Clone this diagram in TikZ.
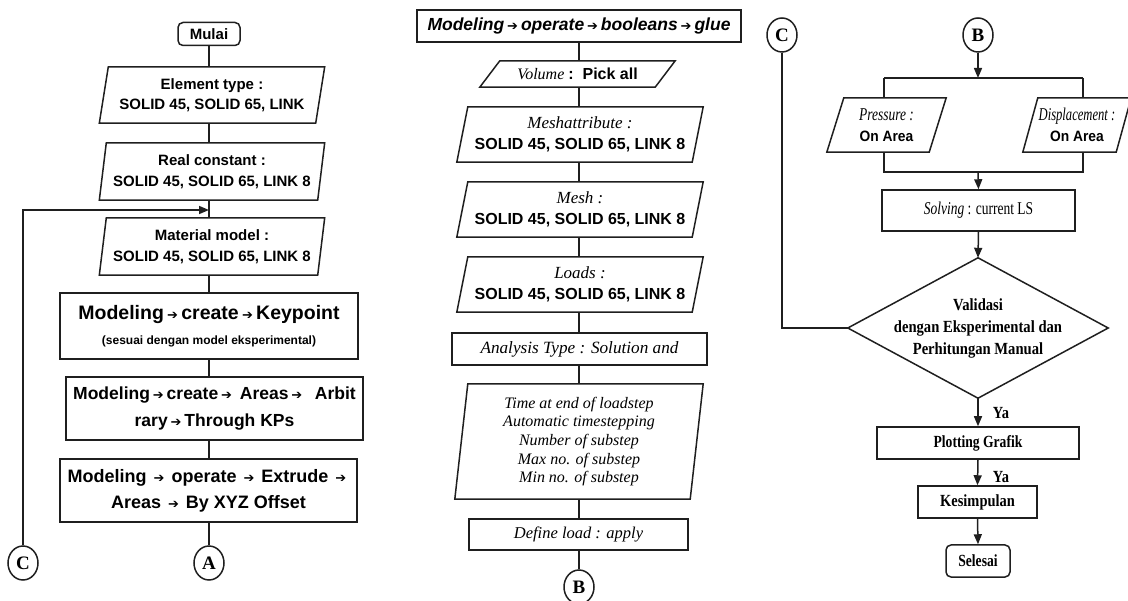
\documentclass[tikz,border=0pt]{standalone}
\usepackage{fontspec}
\usepackage{graphicx}
\setmainfont{Liberation Serif}
\newfontfamily\sansf{Liberation Sans}
\newfontfamily\symf{DejaVu Sans}
\usetikzlibrary{shapes.geometric,arrows.meta}
\newcommand\fs[2]{\fontsize{#1}{#2}\selectfont}
\newcommand\rarr{\,{\symf\fontsize{13}{13}\selectfont\char"2794}\,}
\newcommand\rarrw{\hspace{4pt}\rarr\hspace{4pt}}
\newcommand\sbf{\sansf\bfseries}
\newcommand\narrow[2]{\scalebox{#1}[1]{#2}}
% [node options] name, cx, cy, width, height, slant, text
\newcommand\pgm[8][]{%
  \node[pbase, minimum width=#5pt, minimum height=#6pt, #1] (#2) at (#3,#4) {#8};
  \draw[ln] ([xshift=#7pt]#2.north west) -- (#2.north east) -- ([xshift=-#7pt]#2.south east) -- (#2.south west) -- cycle;}
\begin{document}
\begin{tikzpicture}[x=1pt,y=-1pt,
  ln/.style={line width=1.5pt, draw=black!88, line join=miter},
  arr/.style={ln, -{Triangle[length=10pt,width=8pt]}},
  rbox/.style={ln, draw, rectangle, inner sep=0pt, align=center},
  pbase/.style={rectangle, inner sep=0pt, align=center},
  term/.style={rbox, rounded corners=5pt},
  conn/.style={ln, draw, ellipse, minimum width=30pt, minimum height=34pt, inner sep=0pt, font=\bfseries\fs{19}{19}},
  sb/.style={font=\sbf\fs{15}{20.5}}
]
\useasboundingbox (0,0) rectangle (1128,601);
% ---------- left column ----------
\node[term, minimum width=62pt, minimum height=23pt, font=\sbf\fs{15}{19}] (mulai) at (209,34) {Mulai};
\pgm[sb]{elem}{212}{95}{225}{56}{9}{Element type :\\ SOLID 45, SOLID 65, LINK}
\pgm[sb]{real}{212}{171.5}{225}{57}{7}{Real constant :\\ SOLID 45, SOLID 65, LINK 8}
\pgm[sb]{mat}{212}{246.5}{225}{57}{7}{Material model :\\ SOLID 45, SOLID 65, LINK 8}
\node[rbox, minimum width=298pt, minimum height=66pt, font=\sbf\fs{19.5}{25}] (kp) at (209,326)
  {Modeling\rarr create\rarr Keypoint\\ {\fs{12}{14}(sesuai dengan model eksperimental)}};
\node[rbox, minimum width=297pt, minimum height=63pt, font=\sbf\fs{17.5}{27}] (ar) at (214.5,408.5)
  {Modeling\rarr create\rarr\ Areas\rarr\ \ Arbit\\ rary\rarr Through KPs};
\node[rbox, minimum width=297pt, minimum height=63pt, font=\sbf\fs{18}{26}] (ex) at (208.5,490.5)
  {Modeling\rarrw operate\rarrw Extrude\rarrw\\ Areas\rarrw By XYZ Offset};
\node[conn] (A) at (209,563) {A};
\node[conn] (C1) at (23,563) {C};
\coordinate (lx) at (209,0);
\coordinate (loopin) at (209,210);
\draw[ln] (mulai.south) -- (lx |- elem.north);
\draw[ln] (lx |- elem.south) -- (lx |- real.north);
\draw[ln] (lx |- real.south) -- (lx |- mat.north);
\draw[ln] (lx |- mat.south) -- (lx |- kp.north);
\draw[ln] (lx |- kp.south) -- (lx |- ar.north);
\draw[ln] (lx |- ar.south) -- (lx |- ex.north);
\draw[ln] (lx |- ex.south) -- (A.north);
\draw[arr] (C1.north) |- (loopin);
% ---------- middle column ----------
\node[rbox, minimum width=324pt, minimum height=32pt, font=\sbf\itshape\fs{17.5}{20}] (glue) at (579,26)
  {Modeling\rarr operate\rarr booleans\rarr glue};
\pgm[font=\fs{16}{19}]{vol}{577.5}{74}{195}{26}{20}{{\itshape Volume} {\sbf :\ \ Pick all}}
\pgm[font=\fs{16}{21}]{mattr}{580}{134.5}{246}{55}{11}{{\itshape\fs{17}{21}Meshattribute :}\\ {\sbf SOLID 45, SOLID 65, LINK 8}}
\pgm[font=\fs{16}{21}]{mesh}{580}{209.5}{246}{55}{11}{{\itshape\fs{17}{21}Mesh :}\\ {\sbf SOLID 45, SOLID 65, LINK 8}}
\pgm[font=\fs{16}{21}]{loads}{580}{284.5}{246}{55}{11}{{\itshape\fs{17}{21}Loads :}\\ {\sbf SOLID 45, SOLID 65, LINK 8}}
\node[rbox, minimum width=255pt, minimum height=32pt, font=\itshape\fs{17.2}{20}] (an) at (579.5,349) {Analysis Type : Solution and};
\pgm[font=\itshape\fs{16}{18.7}]{time}{579}{441.5}{248}{115}{13}{Time at end of loadstep\\ Automatic timestepping\\ Number of substep\\ Max no. of substep\\ Min no. of substep}
\node[rbox, minimum width=219pt, minimum height=31pt, font=\itshape\fs{16.5}{20}] (def) at (578.5,534.5) {Define load : apply};
\node[conn] (B1) at (579,587) {B};
\coordinate (mx) at (579,0);
\draw[ln] (mx |- glue.south) -- (mx |- vol.north);
\draw[ln] (mx |- vol.south) -- (mx |- mattr.north);
\draw[ln] (mx |- mattr.south) -- (mx |- mesh.north);
\draw[ln] (mx |- mesh.south) -- (mx |- loads.north);
\draw[ln] (mx |- loads.south) -- (mx |- an.north);
\draw[ln] (mx |- an.south) -- (mx |- time.north);
\draw[ln] (mx |- time.south) -- (mx |- def.north);
\draw[ln] (mx |- def.south) -- (B1.north);
% ---------- right column ----------
\node[conn] (C2) at (782,35) {C};
\node[conn] (B2) at (978,35) {B};
\pgm[font=\fs{18}{21}]{pres}{886.5}{125}{119}{54}{17}{\narrow{0.75}{\itshape Pressure :}\\ \narrow{0.92}{\sbf\fs{15}{21}On Area}}
\pgm[font=\fs{18}{21}]{disp}{1077}{125}{108}{54}{15}{\narrow{0.7}{\itshape Displacement :}\\ \narrow{0.92}{\sbf\fs{15}{21}On Area}}
\coordinate (sl) at (884,78);
\coordinate (sm) at (978,78);
\coordinate (sr) at (1083,78);
\coordinate (jl) at (884,172);
\coordinate (jm) at (978,172);
\coordinate (jr) at (1083,172);
\node[rbox, minimum width=193pt, minimum height=41pt, font=\fs{18}{20}] (solv) at (978.5,210.5) {\narrow{0.75}{\textit{Solving} : current LS}};
\node[pbase, minimum width=260pt, minimum height=140pt, font=\bfseries\fs{17}{22}] (val) at (978,328)
  {\narrow{0.86}{Validasi}\\ \narrow{0.86}{dengan Eksperimental dan}\\ \narrow{0.86}{Perhitungan Manual}};
\draw[ln] (val.north) -- (val.east) -- (val.south) -- (val.west) -- cycle;
\node[rbox, minimum width=202pt, minimum height=32pt, font=\bfseries\fs{17}{19}] (plot) at (978,443) {\narrow{0.8}{Plotting Grafik}};
\node[rbox, minimum width=119pt, minimum height=32pt, font=\bfseries\fs{17}{19}] (kes) at (977.5,502) {\narrow{0.85}{Kesimpulan}};
\node[term, minimum width=64pt, minimum height=32pt, font=\bfseries\fs{17}{19}] (sel) at (978,561) {\narrow{0.8}{Selesai}};
\node[font=\bfseries\fs{17}{19}] (ya1) at (1001,413) {\narrow{0.85}{Ya}};
\node[font=\bfseries\fs{17}{19}] (ya2) at (1001,477) {\narrow{0.85}{Ya}};
\draw[arr] (B2.south) -- (sm);
\draw[ln] (sl) -- (sr);
\draw[ln] (sl) -- (sl |- pres.north);
\draw[ln] (sr) -- (sr |- disp.north);
\draw[ln] (sl |- pres.south) -- (jl) -- (jr) -- (sr |- disp.south);
\draw[arr] (jm) -- (solv.north);
\draw[arr] (solv.south) -- (val.north);
\draw[ln] (C2.south) |- (val.west);
\draw[arr] (val.south) -- (plot.north);
\draw[arr] (plot.south) -- (kes.north);
\draw[arr] (kes.south) -- (sel.north);
\end{tikzpicture}
\end{document}
